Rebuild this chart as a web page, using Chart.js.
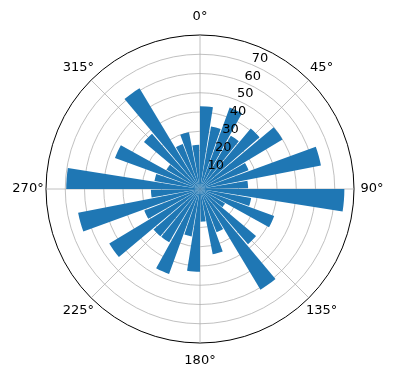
<!DOCTYPE html>
<html>
<head>
<meta charset="utf-8">
<script src="https://cdn.jsdelivr.net/npm/chart.js@4/dist/chart.umd.min.js"></script>
<style>
  html, body { margin: 0; padding: 0; background: #ffffff; }
  #wrap { width: 396px; height: 380px; }
</style>
</head>
<body>
<div id="wrap"><canvas id="c" width="396" height="380"></canvas></div>
<script>
// Bar start angles (degrees, clockwise from north)
const angleCategories = [0,10,20,30,40,50,60,70,80,90,100,110,120,130,140,150,160,170,
                         180,190,200,210,220,230,240,250,260,270,280,290,300,310,320,330,340,350];
// Bar lengths (radial values)
const barValues = [43,33,45,32,41,50,27,64,25,
                   75,27,41,15,38,61,24,34.5,17,
                   43,25,47,32,32,55,31,64.5,25.5,
                   69.5,24,47,20,38,61,25,30,23];
// Angular tick labels
const angleTickLabels = ['0°','45°','90°','135°','180°','225°','270°','315°'];
const angleTickDegrees = [0,45,90,135,180,225,270,315];
// Radial tick labels
const radialTicks = [10,20,30,40,50,60,70];
const radialMax = 80;

const BAR_DEG = 9;     // angular width of a bar
const STEP_DEG = 10;   // angular step between bars
const SUB_DEG = 5;     // label resolution of the angular scale

// Build interleaved bar/gap data for the polar area controller
const chartData = [];
const chartAngles = [];
angleCategories.forEach((a, i) => {
  chartData.push(barValues[i]);
  chartAngles.push(BAR_DEG);
  chartData.push(0);
  chartAngles.push(STEP_DEG - BAR_DEG);
});
const scaleLabels = [];
for (let d = 0; d < 360; d += SUB_DEG) scaleLabels.push(d + '°');

const FONT = 'DejaVu Sans, sans-serif';

const labelPlugin = {
  id: 'mplLabels',
  afterDraw(chart) {
    const ctx = chart.ctx;
    const scale = chart.scales.r;
    const perIdx = 360 / scale._pointLabels.length;
    ctx.save();
    ctx.fillStyle = '#000';
    ctx.font = '13px ' + FONT;
    ctx.textAlign = 'center';
    ctx.textBaseline = 'middle';
    angleTickLabels.forEach((txt, k) => {
      const p = scale.getPointPosition(angleTickDegrees[k] / perIdx, scale.drawingArea + 18);
      ctx.fillText(txt, p.x, p.y);
    });
    radialTicks.forEach(v => {
      const p = scale.getPointPosition(22.5 / perIdx, scale.getDistanceFromCenterForValue(v));
      ctx.fillText(String(v), p.x + 8.5, p.y - 6);
    });
    ctx.restore();
  }
};

new Chart(document.getElementById('c'), {
  type: 'polarArea',
  data: {
    labels: scaleLabels,
    datasets: [{
      data: chartData,
      angle: chartAngles,
      backgroundColor: '#1f77b4',
      borderWidth: 0
    }]
  },
  options: {
    responsive: false,
    animation: false,
    layout: { padding: { left: 46, top: 35, right: 41, bottom: 36 } },
    plugins: { legend: { display: false }, tooltip: { enabled: false } },
    scales: {
      r: {
        min: 0,
        max: radialMax,
        startAngle: 0,
        ticks: { display: false, stepSize: 10, z: 1 },
        pointLabels: { display: false },
        grid: {
          circular: true,
          color: ctx => ctx.tick && ctx.tick.value === radialMax ? '#000000' : '#b0b0b0',
          lineWidth: ctx => ctx.tick && ctx.tick.value === radialMax ? 1 : 0.8
        },
        angleLines: {
          display: true,
          color: '#b0b0b0',
          lineWidth: ctx => ((ctx.index * SUB_DEG) % 45 === 0) ? 0.8 : 0
        }
      }
    }
  },
  plugins: [labelPlugin]
});
</script>
</body>
</html>
